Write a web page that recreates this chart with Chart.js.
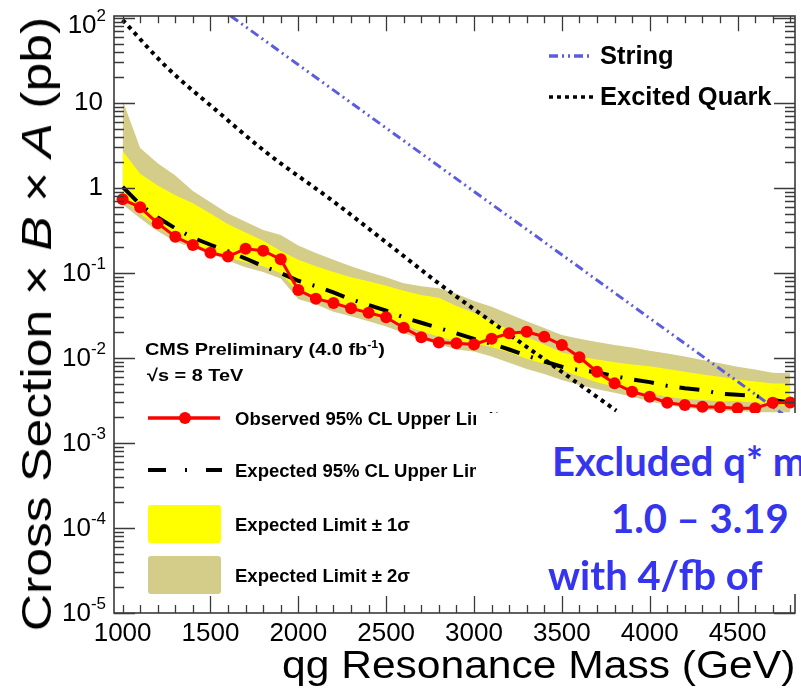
<!DOCTYPE html>
<html>
<head>
<meta charset="utf-8">
<script src="https://cdn.jsdelivr.net/npm/chart.js@4.4.1/dist/chart.umd.min.js"></script>
<style>
  html, body { margin: 0; padding: 0; background: #fff; }
  #wrap { position: relative; width: 801px; height: 693px; overflow: hidden; }
  #plot { position: absolute; left: 0; top: 0; }
  .t { position: absolute; white-space: nowrap; font-family: "Liberation Sans", Arial, sans-serif; color: #000; line-height: 1; z-index: 1; }
  .leg { font-weight: bold; font-size: 18.5px; transform: translateY(-50%); transform-origin: left center; }
  .leg.big { font-size: 25.5px; }
  .leg.info { font-size: 17px; transform: translateY(-50%) scaleX(1.17); }
  .ytitle { font-size: 42px; left: 37px; top: 324px; transform: translate(-50%, -50%) rotate(-90deg) scaleX(1.23); }
  .xtitle { font-size: 38px; right: 6px; top: 665px; transform: translateY(-50%) scaleX(1.12); transform-origin: right center; }
  sup { font-size: 62%; vertical-align: 0.6em; line-height: 0; }
  #cover { position: absolute; left: 476px; top: 413px; width: 325px; height: 181px; background: #fff; z-index: 2; }
  .note { position: absolute; white-space: nowrap; font-family: Lato, "Open Sans", sans-serif; font-weight: bold; font-size: 40px; color: #3535f0; line-height: 1; transform: translateY(-50%); z-index: 3; }
</style>
</head>
<body>
<div id="wrap">
  <canvas id="plot" width="801" height="693"></canvas>
  <div class="t ytitle">Cross Section × <i>B</i> × <i>A</i> (pb)</div>
  <div class="t xtitle">qg Resonance Mass (GeV)</div>
  <div class="t leg big" style="left:600px; top:56px">String</div>
  <div class="t leg big" style="left:600px; top:97px">Excited Quark</div>
  <div class="t leg info" style="left:145px; top:349px">CMS Preliminary (4.0 fb<sup>-1</sup>)</div>
  <div class="t leg info" style="left:147px; top:375px">√s = 8 TeV</div>
  <div class="t leg" style="left:235px; top:419px">Observed 95% CL Upper Limit</div>
  <div class="t leg" style="left:235px; top:471px">Expected 95% CL Upper Limit</div>
  <div class="t leg" style="left:235px; top:525px">Expected Limit ± 1σ</div>
  <div class="t leg" style="left:235px; top:576px">Expected Limit ± 2σ</div>
  <div id="cover"></div>
  <div class="note" style="left:552px; top:461px">Excluded q* m</div>
  <div class="note" style="left:611px; top:518px">1.0 – 3.19</div>
  <div class="note" style="left:548px; top:575px">with 4/fb of</div>
</div>
<script>
// resonance mass points (GeV)
const massPoints = [1000, 1100, 1200, 1300, 1400, 1500, 1600, 1700, 1800, 1900,
  2000, 2100, 2200, 2300, 2400, 2500, 2600, 2700, 2800, 2900,
  3000, 3100, 3200, 3300, 3400, 3500, 3600, 3700, 3800, 3900,
  4000, 4100, 4200, 4300, 4400, 4500, 4600, 4700, 4800];

// limits in pb
const observedLimit = [0.736, 0.593, 0.385, 0.267, 0.213, 0.173, 0.156, 0.193, 0.183, 0.145,
  0.063, 0.0499, 0.0444, 0.0384, 0.0341, 0.0301, 0.0227, 0.0175, 0.0152, 0.0149,
  0.0144, 0.0169, 0.0195, 0.0204, 0.0178, 0.0142, 0.0102, 0.0069, 0.00503, 0.00402,
  0.00351, 0.00298, 0.0028, 0.00267, 0.00263, 0.00256, 0.00256, 0.00298, 0.0030];

const expectedLimit = [1.03, 0.64, 0.45, 0.335, 0.26, 0.215, 0.18, 0.148, 0.12, 0.10,
  0.081, 0.070, 0.059, 0.049, 0.042, 0.036, 0.030, 0.026, 0.0225, 0.0195,
  0.0168, 0.0147, 0.0126, 0.0107, 0.0091, 0.0079, 0.0072, 0.0068, 0.0061, 0.0056,
  0.0052, 0.0047, 0.0044, 0.0042, 0.0038, 0.0037, 0.0036, 0.0032, 0.0030];

const oneSigmaUp = [2.72, 1.47, 1.07, 0.82, 0.66, 0.50, 0.375, 0.30, 0.24, 0.182,
  0.143, 0.12, 0.103, 0.089, 0.080, 0.071, 0.062, 0.055, 0.051, 0.041,
  0.034, 0.027, 0.0215, 0.0177, 0.0144, 0.0116, 0.0104, 0.0096, 0.0089, 0.0084,
  0.0080, 0.0074, 0.0069, 0.0064, 0.0060, 0.0056, 0.0053, 0.0050, 0.0050];

const oneSigmaDown = [0.76, 0.50, 0.35, 0.26, 0.21, 0.182, 0.153, 0.134, 0.12, 0.10,
  0.059, 0.050, 0.042, 0.037, 0.032, 0.028, 0.0245, 0.0207, 0.0178, 0.0157,
  0.0149, 0.0135, 0.0116, 0.0098, 0.0085, 0.0072, 0.0061, 0.0052, 0.0046, 0.0041,
  0.0038, 0.0035, 0.0033, 0.0032, 0.0031, 0.0031, 0.0030, 0.0028, 0.0027];

const twoSigmaUp = [10.8, 2.95, 1.95, 1.4, 0.92, 0.68, 0.50, 0.40, 0.32, 0.28,
  0.21, 0.172, 0.143, 0.12, 0.103, 0.089, 0.076, 0.070, 0.066, 0.057,
  0.047, 0.040, 0.033, 0.027, 0.0225, 0.0187, 0.0168, 0.0154, 0.0142, 0.0133,
  0.0122, 0.0113, 0.0104, 0.0095, 0.0087, 0.0079, 0.0073, 0.0067, 0.0066];

const twoSigmaDown = [0.64, 0.44, 0.31, 0.235, 0.197, 0.17, 0.139, 0.117, 0.103, 0.086,
  0.049, 0.043, 0.035, 0.031, 0.027, 0.0235, 0.0197, 0.0164, 0.0145, 0.0126,
  0.0119, 0.0104, 0.0088, 0.0074, 0.0065, 0.0055, 0.0048, 0.0043, 0.0039, 0.0035,
  0.0031, 0.0028, 0.0026, 0.0025, 0.0024, 0.0024, 0.0023, 0.0023, 0.0023];

// theory curves
const stringMass = [1500, 2000, 2500, 3000, 3500, 4000, 4500, 4800];
const stringXsec = [157, 28.2, 5.07, 0.91, 0.164, 0.0294, 0.00529, 0.00189];

const quarkMass = [1000, 1250, 1530, 1820, 2190, 2570, 2790, 3170, 3540, 3810];
const quarkXsec = [95, 26.5, 8.3, 2.6, 0.72, 0.177, 0.078, 0.021, 0.0060, 0.0024];

// axis labels
const xTickLabels = [1000, 1500, 2000, 2500, 3000, 3500, 4000, 4500];
const yDecades = [-5, -4, -3, -2, -1, 0, 1, 2];

const X_MIN = 951, X_MAX = 4827;
const Y_MIN = 1e-5, Y_MAX = 105.6;

const pts = (xs, ys) => xs.map((x, i) => ({ x: x, y: ys[i] }));

const tan = '#d4cd8a';
const yellow = '#ffff00';
const stringBlue = '#5c5ce0';
const FONT = '"Liberation Sans", Arial, sans-serif';

const axisFrame = {
  id: 'axisFrame',
  afterDatasetsDraw(chart) {
    const { ctx, chartArea: a, scales } = chart;
    const x = scales.x, y = scales.y;
    ctx.save();
    ctx.strokeStyle = '#3a3a3a';
    ctx.lineWidth = 1.6;
    ctx.strokeRect(a.left, a.top, a.right - a.left, a.bottom - a.top);
    ctx.lineWidth = 1.3;
    ctx.beginPath();
    // mass ticks, bottom and top
    for (let m = 1000; m < X_MAX; m += 100) {
      const px = Math.round(x.getPixelForValue(m)) + 0.5;
      const len = (m % 500 === 0 && m > 1000) ? 17 : 8;
      ctx.moveTo(px, a.bottom); ctx.lineTo(px, a.bottom - len);
      ctx.moveTo(px, a.top); ctx.lineTo(px, a.top + len * 0.9);
    }
    // log ticks, left and right
    for (const d of yDecades) {
      for (let k = 1; k <= 9; k++) {
        const v = k * Math.pow(10, d);
        if (v < Y_MIN || v > Y_MAX) continue;
        const py = Math.round(y.getPixelForValue(v)) + 0.5;
        const len = k === 1 ? 21 : 10;
        ctx.moveTo(a.left, py); ctx.lineTo(a.left + len, py);
        ctx.moveTo(a.right, py); ctx.lineTo(a.right - len, py);
      }
    }
    ctx.stroke();
    ctx.restore();
  },
  afterDraw(chart) {
    const { ctx, chartArea: a, scales } = chart;
    const x = scales.x, y = scales.y;
    ctx.save();
    ctx.fillStyle = '#000';
    ctx.font = '26px ' + FONT;
    ctx.textAlign = 'center';
    ctx.textBaseline = 'middle';
    xTickLabels.forEach(m => ctx.fillText(String(m), x.getPixelForValue(m), a.bottom + 21));

    ctx.textAlign = 'right';
    yDecades.forEach(d => {
      let py = y.getPixelForValue(Math.pow(10, d));
      if (d === 2) py += 7;
      if (d === 0 || d === 1) {
        ctx.font = '26px ' + FONT;
        ctx.fillText(d === 0 ? '1' : '10', 103, py);
        return;
      }
      const exp = d < 0 ? '-' + (-d) : String(d);
      ctx.font = '17px ' + FONT;
      const ew = ctx.measureText(exp).width;
      ctx.fillText(exp, 106, py - 9);
      ctx.font = '26px ' + FONT;
      ctx.fillText('10', 106 - ew, py + 1);
    });

    // legend samples
    ctx.lineCap = 'butt';
    ctx.strokeStyle = stringBlue; ctx.lineWidth = 3.5; ctx.setLineDash([9, 4, 2, 4, 2, 4]);
    ctx.beginPath(); ctx.moveTo(549, 56); ctx.lineTo(591, 56); ctx.stroke();
    ctx.strokeStyle = '#000'; ctx.setLineDash([4, 4]);
    ctx.beginPath(); ctx.moveTo(549, 97); ctx.lineTo(593, 97); ctx.stroke();

    ctx.setLineDash([]);
    ctx.strokeStyle = '#ff0000'; ctx.lineWidth = 3.5;
    ctx.beginPath(); ctx.moveTo(148, 418); ctx.lineTo(220, 418); ctx.stroke();
    ctx.fillStyle = '#ff0000';
    ctx.beginPath(); ctx.arc(185, 418, 6, 0, Math.PI * 2); ctx.fill();

    ctx.strokeStyle = '#000'; ctx.lineWidth = 4; ctx.setLineDash([18, 19, 2, 19]);
    ctx.beginPath(); ctx.moveTo(148, 470); ctx.lineTo(222, 470); ctx.stroke();
    ctx.setLineDash([]);

    ctx.fillStyle = yellow;
    ctx.beginPath(); ctx.roundRect(148, 505, 73, 38, 3); ctx.fill();
    ctx.fillStyle = tan;
    ctx.beginPath(); ctx.roundRect(148, 556, 73, 38, 3); ctx.fill();
    ctx.restore();
  }
};

const band = (data, color, fill) => ({
  data: pts(massPoints, data),
  borderWidth: 0,
  borderColor: color,
  backgroundColor: color,
  pointRadius: 0,
  fill: fill
});

new Chart(document.getElementById('plot'), {
  type: 'line',
  data: {
    datasets: [
      {
        data: pts(massPoints, observedLimit),
        borderColor: '#ff0000', backgroundColor: '#ff0000',
        borderWidth: 3, pointRadius: 6, pointBorderWidth: 0, fill: false
      },
      {
        data: pts(massPoints, expectedLimit),
        borderColor: '#000', borderWidth: 4, borderDash: [20, 12, 2, 12],
        pointRadius: 0, fill: false
      },
      {
        data: pts(stringMass, stringXsec),
        borderColor: stringBlue, borderWidth: 3, borderDash: [9, 4, 2, 4, 2, 4],
        pointRadius: 0, fill: false
      },
      {
        data: pts(quarkMass, quarkXsec),
        borderColor: '#000', borderWidth: 4, borderDash: [4, 4.5],
        cubicInterpolationMode: 'monotone',
        pointRadius: 0, fill: false
      },
      band(oneSigmaUp, yellow, '+1'),
      band(oneSigmaDown, yellow, false),
      band(twoSigmaUp, tan, '+1'),
      band(twoSigmaDown, tan, false)
    ]
  },
  options: {
    responsive: false,
    animation: false,
    layout: { padding: { left: 114, top: 16, right: 1, bottom: 80 } },
    scales: {
      x: { type: 'linear', min: X_MIN, max: X_MAX, display: false },
      y: { type: 'logarithmic', min: Y_MIN, max: Y_MAX, display: false }
    },
    plugins: {
      legend: { display: false },
      tooltip: { enabled: false }
    }
  },
  plugins: [axisFrame]
});
</script>
</body>
</html>
